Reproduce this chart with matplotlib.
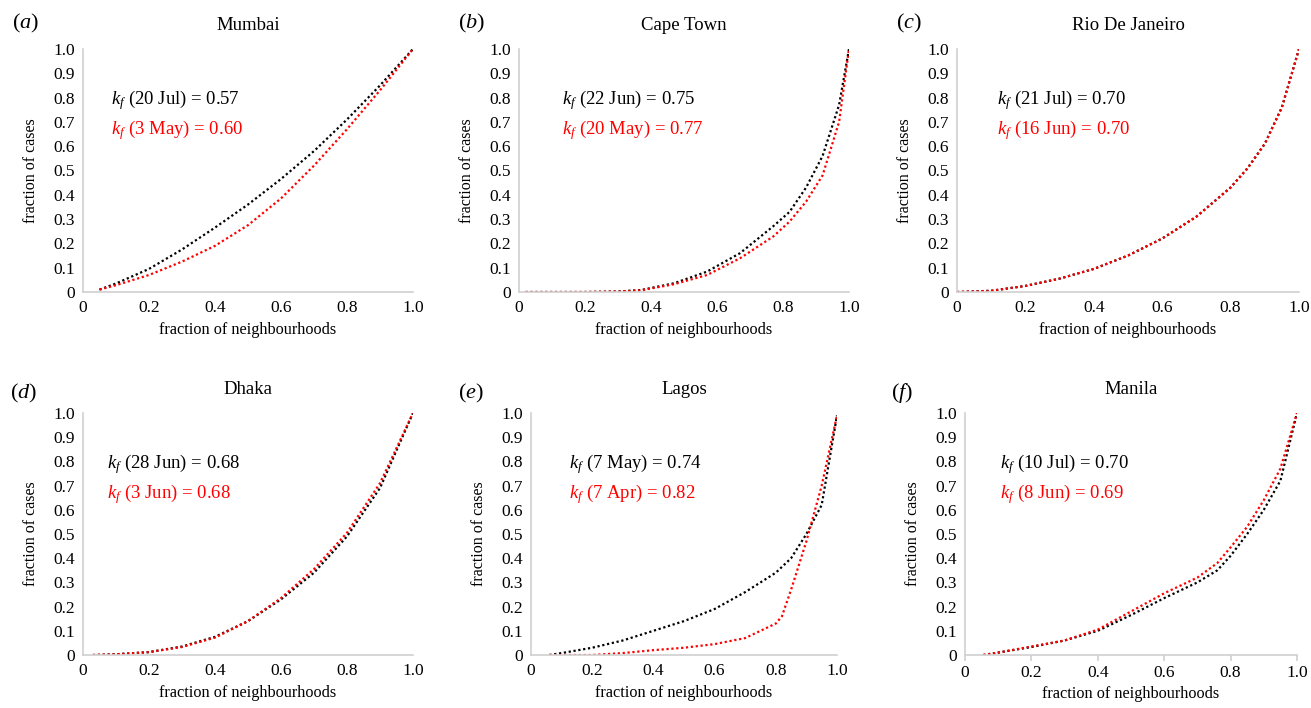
import matplotlib
matplotlib.use("Agg")
import matplotlib.pyplot as plt

plt.rcParams['font.family'] = ['Liberation Serif', 'DejaVu Serif']
plt.rcParams['mathtext.fontset'] = 'custom'
plt.rcParams['mathtext.rm'] = 'Liberation Serif'
plt.rcParams['mathtext.it'] = 'Liberation Serif:italic'

cities = ['Mumbai', 'Cape Town', 'Rio De Janeiro', 'Dhaka', 'Lagos', 'Manila']
letters = ['a', 'b', 'c', 'd', 'e', 'f']
black_labels = ['(20 Jul) = 0.57', '(22 Jun) = 0.75', '(21 Jul) = 0.70',
                '(28 Jun) = 0.68', '(7 May) = 0.74', '(10 Jul) = 0.70']
red_labels = ['(3 May) = 0.60', '(20 May) = 0.77', '(16 Jun) = 0.70',
              '(3 Jun) = 0.68', '(7 Apr) = 0.82', '(8 Jun) = 0.69']

# Mumbai
mum_x = [0.05, 0.1, 0.2, 0.3, 0.4, 0.5, 0.6, 0.7, 0.8, 0.9, 1.0]
mum_black = [0.01, 0.035, 0.095, 0.175, 0.265, 0.36, 0.465, 0.58, 0.71, 0.85, 1.0]
mum_red = [0.01, 0.028, 0.07, 0.125, 0.19, 0.275, 0.385, 0.52, 0.67, 0.83, 1.0]
# Cape Town
cpt_x = [0.02, 0.1, 0.2, 0.3, 0.37, 0.47, 0.57, 0.67, 0.77, 0.82, 0.87, 0.92, 0.97, 1.0]
cpt_black = [0, 0, 0, 0.002, 0.008, 0.036, 0.084, 0.16, 0.27, 0.33, 0.43, 0.56, 0.77, 1.0]
cpt_red = [0, 0, 0, 0.002, 0.007, 0.032, 0.07, 0.139, 0.228, 0.29, 0.372, 0.48, 0.70, 1.0]
# Rio De Janeiro
rio_x = [0.0, 0.1, 0.2, 0.3, 0.4, 0.5, 0.6, 0.7, 0.8, 0.85, 0.9, 0.95, 1.0]
rio_black = [0, 0.005, 0.025, 0.055, 0.095, 0.15, 0.22, 0.31, 0.43, 0.51, 0.61, 0.76, 1.0]
rio_red = [0, 0.005, 0.025, 0.055, 0.095, 0.15, 0.22, 0.31, 0.43, 0.51, 0.61, 0.76, 1.0]
# Dhaka
dha_x = [0.03, 0.1, 0.2, 0.3, 0.4, 0.5, 0.6, 0.7, 0.8, 0.9, 1.0]
dha_black = [0, 0.003, 0.012, 0.035, 0.075, 0.14, 0.23, 0.34, 0.49, 0.69, 1.0]
dha_red = [0, 0.003, 0.012, 0.033, 0.072, 0.14, 0.235, 0.355, 0.505, 0.71, 1.0]
# Lagos
lag_bx = [0.06, 0.1, 0.2, 0.3, 0.4, 0.5, 0.6, 0.7, 0.8, 0.85, 0.9, 0.95, 1.0]
lag_black = [0, 0.008, 0.03, 0.06, 0.10, 0.14, 0.19, 0.26, 0.34, 0.40, 0.50, 0.62, 0.99]
lag_rx = [0.06, 0.1, 0.2, 0.3, 0.4, 0.5, 0.6, 0.7, 0.8, 0.82, 0.85, 0.9, 0.95, 1.0]
lag_red = [0, 0, 0, 0.008, 0.02, 0.03, 0.045, 0.07, 0.13, 0.16, 0.27, 0.47, 0.70, 0.99]
# Manila
man_x = [0.055, 0.1, 0.2, 0.3, 0.4, 0.5, 0.6, 0.7, 0.76, 0.8, 0.85, 0.9, 0.95, 1.0]
man_black = [0, 0.01, 0.033, 0.06, 0.10, 0.165, 0.235, 0.30, 0.35, 0.41, 0.50, 0.60, 0.72, 1.0]
man_red = [0, 0.01, 0.035, 0.06, 0.105, 0.18, 0.255, 0.32, 0.38, 0.445, 0.53, 0.64, 0.77, 1.0]

series = [
    (mum_x, mum_black, mum_x, mum_red),
    (cpt_x, cpt_black, cpt_x, cpt_red),
    (rio_x, rio_black, rio_x, rio_red),
    (dha_x, dha_black, dha_x, dha_red),
    (lag_bx, lag_black, lag_rx, lag_red),
    (man_x, man_black, man_x, man_red),
]

# axes boxes in pixels: left, right, top, bottom
W, H = 1311, 708
boxes = [(83, 413, 49, 292), (519, 849, 49, 292), (957, 1299, 49, 292),
         (83, 413, 413, 655), (531, 837, 413, 655), (965, 1297, 413, 655)]
text_x = [0.085, 0.13, 0.117, 0.073, 0.124, 0.105]
label_pos = [(12, 23), (458, 23), (896, 23), (10, 393), (458, 393), (891, 393)]

fig = plt.figure(figsize=(W / 100, H / 100), dpi=100)
grey = '#d0d0d0'

for i in range(6):
    l, r, t, b = boxes[i]
    ax = fig.add_axes([l / W, 1 - b / H, (r - l) / W, (b - t) / H])
    bx, by, rx, ry = series[i]
    ax.plot(bx, by, color='black', lw=1.6, linestyle=(0, (1, 1.2)))
    ax.plot(rx, ry, color='#ff0000', lw=1.6, linestyle=(0, (1, 1.2)))
    ax.set_xlim(0, 1.0)
    ax.set_ylim(0, 1.0)
    ax.set_xticks([0, 0.2, 0.4, 0.6, 0.8, 1.0])
    ax.set_xticklabels(['0', '0.2', '0.4', '0.6', '0.8', '1.0'], fontsize=12.5)
    ax.set_yticks([j / 10 for j in range(11)])
    ax.set_yticklabels(['0'] + ['%.1f' % (j / 10) for j in range(1, 11)], fontsize=12.5)
    for s in ['top', 'right']:
        ax.spines[s].set_visible(False)
    for s in ['left', 'bottom']:
        ax.spines[s].set_color(grey)
        ax.spines[s].set_linewidth(1.2)
    ax.tick_params(axis='y', length=0, pad=6)
    if i == 5:
        ax.tick_params(axis='x', length=4, color=grey, width=1.2, pad=3)
    else:
        ax.tick_params(axis='x', length=0, pad=6)
    ax.set_xlabel('fraction of neighbourhoods', fontsize=11.7, labelpad=4)
    ax.set_ylabel('fraction of cases', fontsize=11.5, labelpad=10)
    ax.set_title(cities[i], fontsize=13.5, pad=14)
    ax.text(text_x[i], 0.79, r'$k_f$' + ' ' + black_labels[i], transform=ax.transAxes,
            fontsize=13.5, color='black', va='center')
    ax.text(text_x[i], 0.665, r'$k_f$' + ' ' + red_labels[i], transform=ax.transAxes,
            fontsize=13.5, color='#ff0000', va='center')
    lx, ly = label_pos[i]
    fig.text(lx / W, 1 - ly / H, '($' + letters[i] + '$)', fontsize=16,
             ha='left', va='center')

fig.savefig('out.png', dpi=100)
